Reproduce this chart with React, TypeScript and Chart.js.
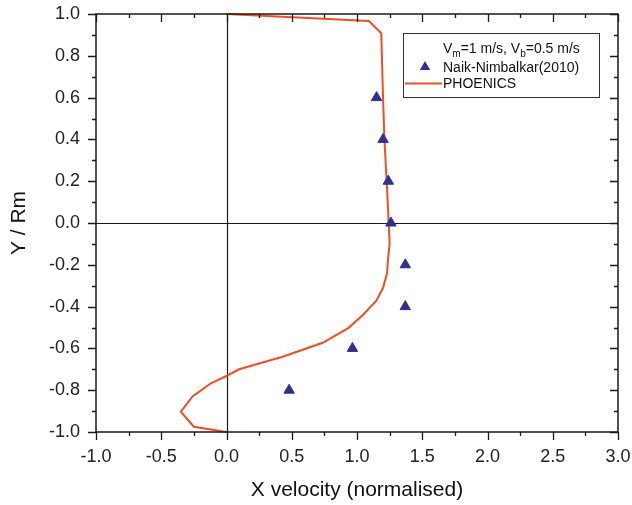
import React, { useEffect, useRef } from "react";
import { Chart, registerables } from "chart.js";

Chart.register(...registerables);

// ---- Data ----
const expX = [1.15, 1.2, 1.24, 1.26, 1.37, 1.37, 0.965, 0.48];
const expY = [0.6, 0.4, 0.2, 0.0, -0.2, -0.4, -0.6, -0.8];

const cfdX = [0, 1.09, 1.186, 1.2, 1.21, 1.23, 1.245, 1.25, 1.24, 1.23, 1.2, 1.15, 1.045, 0.93, 0.737, 0.43, 0.096, 0, -0.12, -0.26, -0.35, -0.25, 0];
const cfdY = [1, 0.967, 0.908, 0.59, 0.4, 0.17, -0.03, -0.1, -0.16, -0.24, -0.31, -0.37, -0.44, -0.504, -0.573, -0.64, -0.7, -0.732, -0.767, -0.83, -0.903, -0.975, -1];

const expLabel = "Naik-Nimbalkar(2010)";
const cfdLabel = "PHOENICS";
const xTitle = "X velocity (normalised)";
const yTitle = "Y / Rm";

const xMin = -1, xMax = 3, xMajor = 0.5, xMinor = 0.25;
const yMin = -1, yMax = 1, yMajor = 0.2, yMinor = 0.1;

const FONT = "'Liberation Sans', Arial, Helvetica, sans-serif";
const ORANGE = "#f04f24";
const NAVY = "#2e3192";
const AXIS = "#1a1a1a";

const framePlugin = {
  id: "frame",
  beforeDatasetsDraw(chart: any) {
    const { ctx, chartArea: a, scales } = chart;
    const xs = scales.x, ys = scales.y;
    ctx.save();
    ctx.strokeStyle = AXIS;
    ctx.lineWidth = 1.2;
    const x0 = Math.round(xs.getPixelForValue(0)) + 0.5;
    const y0 = Math.round(ys.getPixelForValue(0)) + 0.5;
    ctx.beginPath();
    ctx.moveTo(x0, a.top); ctx.lineTo(x0, a.bottom);
    ctx.moveTo(a.left, y0); ctx.lineTo(a.right, y0);
    ctx.stroke();
    ctx.restore();
  },
  afterDraw(chart: any) {
    const { ctx, chartArea: a, scales } = chart;
    const xs = scales.x, ys = scales.y;
    ctx.save();
    ctx.strokeStyle = AXIS;
    ctx.lineWidth = 1.5;
    ctx.strokeRect(a.left, a.top, a.right - a.left, a.bottom - a.top);
    ctx.lineWidth = 1.3;
    ctx.beginPath();
    const nX = Math.round((xMax - xMin) / xMinor);
    for (let i = 0; i <= nX; i++) {
      const v = xMin + i * xMinor;
      const major = i % Math.round(xMajor / xMinor) === 0;
      const len = major ? 8 : 4;
      const px = Math.round(xs.getPixelForValue(v)) + 0.5;
      ctx.moveTo(px, a.bottom); ctx.lineTo(px, a.bottom + len);
      ctx.moveTo(px, a.top); ctx.lineTo(px, a.top + len);
    }
    const nY = Math.round((yMax - yMin) / yMinor);
    for (let i = 0; i <= nY; i++) {
      const v = yMin + i * yMinor;
      const major = i % Math.round(yMajor / yMinor) === 0;
      const len = major ? 8 : 4;
      const py = Math.round(ys.getPixelForValue(v)) + 0.5;
      ctx.moveTo(a.left, py); ctx.lineTo(a.left - len, py);
      ctx.moveTo(a.right, py); ctx.lineTo(a.right - len, py);
    }
    ctx.stroke();

    // legend
    const bx = 403, by = 33, bw = 196, bh = 64;
    ctx.fillStyle = "#ffffff";
    ctx.fillRect(bx, by, bw, bh);
    ctx.strokeStyle = "#333";
    ctx.lineWidth = 1;
    ctx.strokeRect(bx + 0.5, by + 0.5, bw, bh);

    ctx.fillStyle = "#111";
    ctx.textBaseline = "alphabetic";
    ctx.textAlign = "left";
    const big = `14px ${FONT}`;
    const small = `10px ${FONT}`;
    const parts: [string, boolean][] = [["V", false], ["m", true], ["=1 m/s, V", false], ["b", true], ["=0.5 m/s", false]];
    let tx = 443;
    for (const [t, sub] of parts) {
      ctx.font = sub ? small : big;
      ctx.fillText(t, tx, sub ? 57 : 53);
      tx += ctx.measureText(t).width;
    }
    const ds = chart.data.datasets;
    ctx.font = big;
    ctx.fillText(ds[0].label, 443, 72);
    ctx.fillText(ds[1].label, 443, 88);
    const r = 6, cx = 425, cy = 67;
    ctx.fillStyle = NAVY;
    ctx.beginPath();
    ctx.moveTo(cx, cy - r);
    ctx.lineTo(cx + 0.866 * r, cy + 0.5 * r);
    ctx.lineTo(cx - 0.866 * r, cy + 0.5 * r);
    ctx.closePath();
    ctx.fill();
    ctx.strokeStyle = ORANGE;
    ctx.lineWidth = 2;
    ctx.beginPath();
    ctx.moveTo(405, 83.5); ctx.lineTo(442, 83.5);
    ctx.stroke();
    ctx.restore();
  },
};

export default function App() {
  const ref = useRef<HTMLCanvasElement | null>(null);
  useEffect(() => {
    if (!ref.current) return;
    const chart = new Chart(ref.current, {
      type: "scatter",
      data: {
        datasets: [
          {
            label: expLabel,
            data: expX.map((x, i) => ({ x, y: expY[i] })),
            pointStyle: "triangle",
            pointRadius: 6,
            pointBackgroundColor: NAVY,
            pointBorderColor: NAVY,
            pointBorderWidth: 1,
            showLine: false,
            clip: false,
            order: 1,
          },
          {
            label: cfdLabel,
            data: cfdX.map((x, i) => ({ x, y: cfdY[i] })),
            showLine: true,
            borderColor: ORANGE,
            borderWidth: 2,
            pointRadius: 0,
            fill: false,
            tension: 0,
            clip: false,
            order: 2,
          },
        ],
      },
      options: {
        animation: false,
        responsive: true,
        maintainAspectRatio: false,
        layout: { padding: { top: 14, right: 14, left: 0, bottom: 0 } },
        plugins: { legend: { display: false }, tooltip: { enabled: false } },
        scales: {
          x: {
            type: "linear",
            min: xMin,
            max: xMax,
            grid: { display: false, drawTicks: false },
            border: { display: false },
            ticks: {
              stepSize: xMajor,
              padding: 14,
              color: "#222",
              font: { family: FONT, size: 18 },
              callback: (v: any) => Number(v).toFixed(1),
              maxRotation: 0,
              autoSkip: false,
            },
            title: {
              display: true,
              text: xTitle,
              color: "#111",
              font: { family: FONT, size: 21, lineHeight: 1.2 },
              padding: { top: 0, bottom: 2 },
            },
            afterFit: (s: any) => { s.height = 73; s.paddingLeft = 0; s.paddingRight = 0; },
          },
          y: {
            type: "linear",
            min: yMin,
            max: yMax,
            grid: { display: false, drawTicks: false },
            border: { display: false },
            ticks: {
              stepSize: yMajor,
              padding: 16,
              color: "#222",
              font: { family: FONT, size: 18 },
              callback: (v: any) => Number(v).toFixed(1),
              autoSkip: false,
            },
            title: {
              display: true,
              text: yTitle,
              color: "#111",
              font: { family: FONT, size: 21, lineHeight: 1.2 },
              padding: { top: 7, bottom: 0 },
            },
            afterFit: (s: any) => { s.width = 96; s.paddingTop = 0; s.paddingBottom = 0; },
          },
        },
      },
      plugins: [framePlugin],
    });
    return () => chart.destroy();
  }, []);
  return (
    <div style={{ position: "absolute", left: 0, top: 0, width: 632, height: 505, background: "#fff" }}>
      <canvas ref={ref} />
    </div>
  );
}
